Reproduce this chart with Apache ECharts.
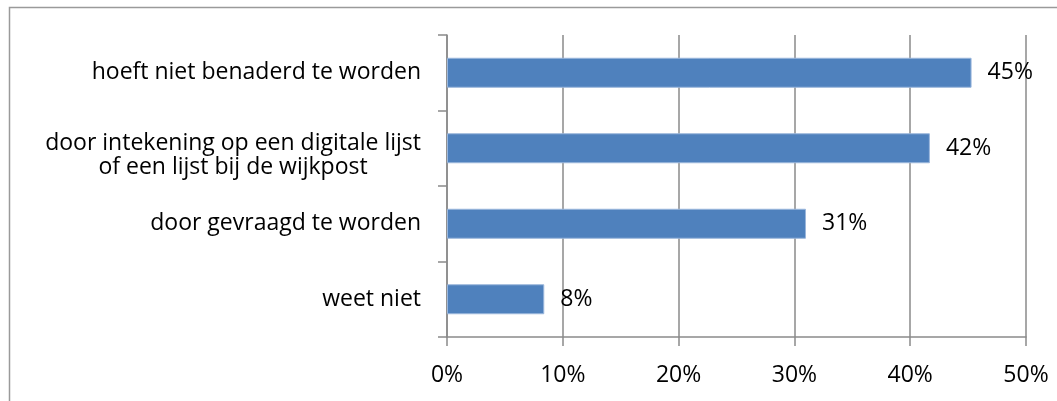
<!DOCTYPE html>
<html>
<head>
<meta charset="utf-8">
<script src="https://cdn.jsdelivr.net/npm/echarts@6/dist/echarts.min.js"></script>
<style>
  html, body { margin: 0; padding: 0; background: #fff; }
  #chart { width: 1057px; height: 401px; }
</style>
</head>
<body>
<div id="chart"></div>
<script>
  // categories, top to bottom
  var categories = [
    'hoeft niet benaderd te worden',
    'door intekening op een digitale lijst\nof een lijst bij de wijkpost',
    'door gevraagd te worden',
    'weet niet'
  ];
  var values = [45.3, 41.7, 31.0, 8.4];
  var xTicks = [0, 10, 20, 30, 40, 50];

  var axisGray = '#8a8a8a';
  var font = 'Open Sans';
  var myChart = echarts.init(document.getElementById('chart'));
  myChart.setOption({
    animation: false,
    textStyle: { fontFamily: font },
    graphic: [{
      type: 'rect',
      shape: { x: 9.5, y: 7.5, width: 1200, height: 600 },
      style: { fill: 'none', stroke: '#9a9a9a', lineWidth: 1.5 },
      silent: true
    }],
    grid: {
      left: 447,
      right: 31,
      top: 35,
      bottom: 64
    },
    xAxis: {
      type: 'value',
      min: xTicks[0],
      max: xTicks[xTicks.length - 1],
      interval: 10,
      axisLine: { show: true, lineStyle: { color: axisGray, width: 1.5 } },
      axisTick: { show: true, length: 9, lineStyle: { color: axisGray, width: 1.5 } },
      axisLabel: {
        margin: 27,
        color: '#000',
        fontSize: 23,
        fontFamily: font,
        formatter: function (v) { return v + '%'; }
      },
      splitLine: { show: true, lineStyle: { color: axisGray, width: 1.5 } }
    },
    yAxis: {
      type: 'category',
      inverse: true,
      data: categories,
      axisLine: { show: true, lineStyle: { color: axisGray, width: 1.5 } },
      axisTick: { show: true, length: 9, alignWithLabel: false, lineStyle: { color: axisGray, width: 1.5 } },
      axisLabel: {
        margin: 26,
        color: '#000',
        fontSize: 23,
        lineHeight: 24,
        formatter: function (v) {
          var lines = v.split('\n');
          if (lines.length > 1) {
            // empty spacer line on top pushes the two-line block a bit lower, as in the original
            return '{sp| }\n' + lines.map(function (s) { return '{c|' + s + '}'; }).join('\n');
          }
          return v;
        },
        rich: {
          sp: { fontSize: 10, lineHeight: 14 },
          c: { align: 'center', fontSize: 23, lineHeight: 24, color: '#000', fontFamily: font }
        }
      },
      splitLine: { show: false }
    },
    series: [{
      type: 'bar',
      data: values,
      barWidth: 30,
      itemStyle: { color: '#4f81bd', borderColor: '#9bb7dc', borderWidth: 1 },
      label: {
        show: true,
        position: 'right',
        distance: 16,
        color: '#000',
        fontSize: 23,
        fontFamily: font,
        formatter: function (p) { return Math.round(p.value) + '%'; }
      }
    }]
  });
</script>
</body>
</html>
